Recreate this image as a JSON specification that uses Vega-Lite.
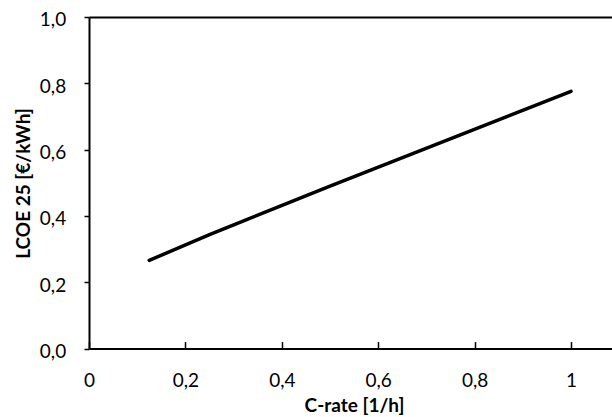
{
  "$schema": "https://vega.github.io/schema/vega-lite/v6.json",
  "autosize": {"type": "none"},
  "width": 523,
  "height": 331.6,
  "padding": {"left": 89, "top": 17, "right": 0, "bottom": 68},
  "background": "white",
  "config": {
    "view": {"stroke": null},
    "font": "Lato",
    "axis": {"grid": false, "labelFont": "Lato", "titleFont": "Lato", "labelColor": "#000", "titleColor": "#000", "domainColor": "#000", "tickColor": "#000", "labelFlush": false, "labelOverlap": false}
  },
  "data": {
    "values": [
      {"c": 0.125, "lcoe": 0.266},
      {"c": 0.25, "lcoe": 0.344},
      {"c": 0.5, "lcoe": 0.49},
      {"c": 1.0, "lcoe": 0.776}
    ]
  },
  "layer": [
    {
      "mark": {"type": "line", "color": "#000", "strokeWidth": 3.5, "strokeCap": "round", "clip": true},
      "encoding": {
        "x": {
          "field": "c", "type": "quantitative",
          "scale": {"domain": [0, 1.085], "nice": false, "zero": false},
          "axis": {
            "orient": "bottom",
            "values": [0, 0.2, 0.4, 0.6, 0.8, 1],
            "labelExpr": "datum.value == 0 ? '0' : datum.value == 1 ? '1' : replace(format(datum.value, '.1f'), '.', ',')",
            "labelFontSize": 19,
            "labelBaseline": "alphabetic",
            "labelPadding": 45.4,
            "tickSize": -7,
            "tickWidth": 1.5,
            "domainWidth": 2,
            "title": "C-rate [1/h]",
            "titleFontSize": 19,
            "titleFontWeight": "bold",
            "titleBaseline": "alphabetic",
            "titleAlign": "center",
            "titleAnchor": null,
            "titleX": 265,
            "titleY": 63
          }
        },
        "y": {
          "field": "lcoe", "type": "quantitative",
          "scale": {"domain": [0, 1], "nice": false},
          "axis": {
            "values": [0, 0.2, 0.4, 0.6, 0.8, 1],
            "labelExpr": "replace(format(datum.value, '.1f'), '.', ',')",
            "labelFontSize": 19,
            "labelBaseline": "alphabetic",
            "labelOffset": 9,
            "labelPadding": 18.3,
            "tickSize": 5,
            "tickWidth": 1.5,
            "domainWidth": 2,
            "title": "LCOE 25 [€/kWh]",
            "titleFontSize": 19,
            "titleFontWeight": "bold",
            "titleAngle": -90,
            "titleBaseline": "middle",
            "titleAlign": "center",
            "titleAnchor": null,
            "titleX": -66,
            "titleY": 166
          }
        }
      }
    },
    {
      "mark": {"type": "rule", "opacity": 0},
      "encoding": {
        "x": {
          "datum": 0, "type": "quantitative",
          "axis": {"orient": "top", "labels": false, "ticks": false, "title": null, "domainWidth": 2, "domainColor": "#000"}
        }
      }
    }
  ],
  "resolve": {"axis": {"x": "independent"}}
}
